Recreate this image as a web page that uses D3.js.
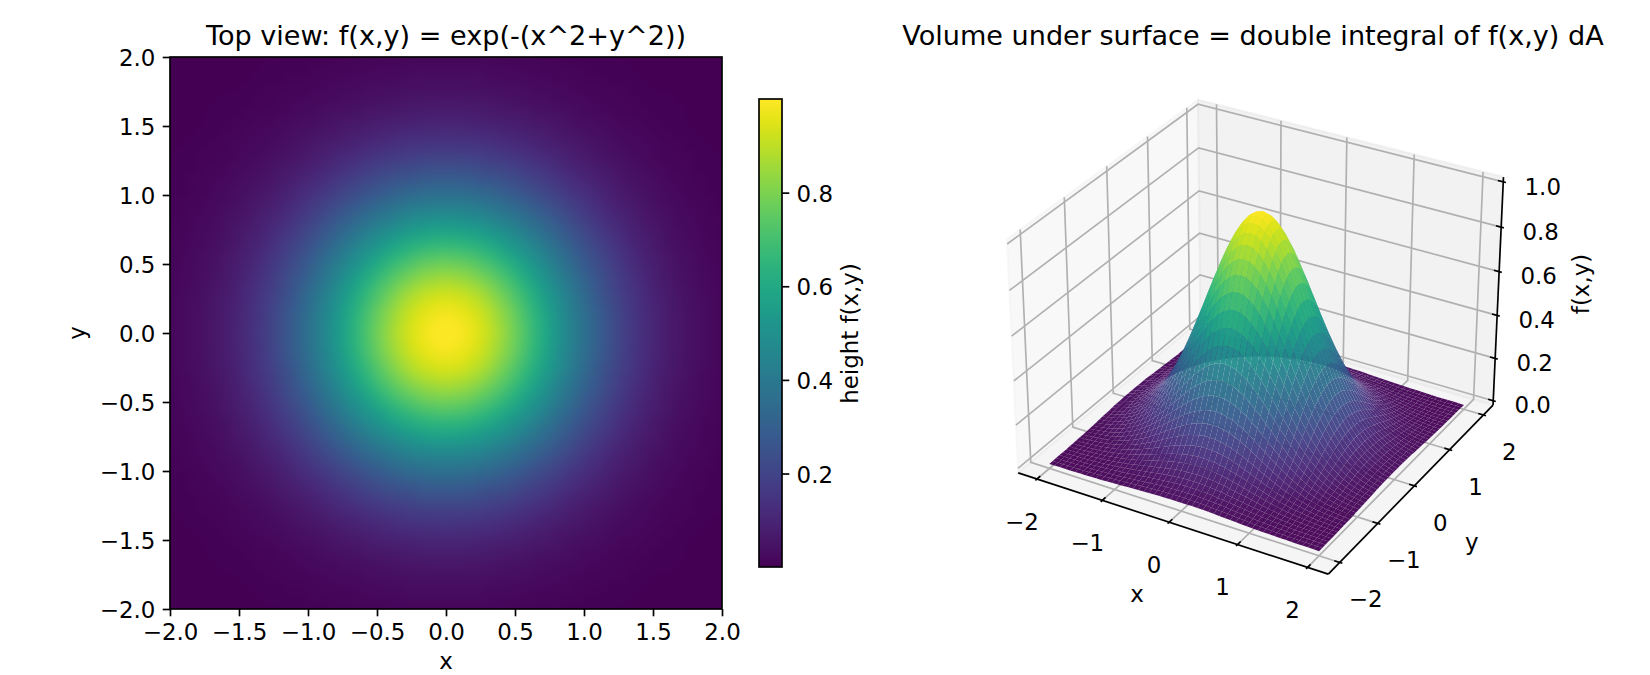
<!DOCTYPE html>
<html>
<head>
<meta charset="utf-8">
<title>Volume under surface</title>
<script src="https://cdn.jsdelivr.net/npm/d3@7"></script>
<style>
  html, body { margin: 0; padding: 0; background: #fff; }
  svg { display: block; font-family: "DejaVu Sans", sans-serif; fill: #000; }
  text { fill: #000; }
</style>
</head>
<body>
<svg id="chart" width="1650" height="675"></svg>
<script>
// Height of the surface over one quadrant, rows along y = 0, 0.08 ... 2.0, columns along x = 0, 0.08 ... 2.0.
const heightQuadrant = [
  [1.000,.994,.975,.944,.903,.852,.794,.731,.664,.595,.527,.461,.398,.339,.285,.237,.194,.157,.126,.099,.077,.059,.045,.034,.025,.018],
  [.994,.987,.968,.938,.897,.847,.789,.726,.660,.592,.524,.458,.395,.337,.283,.235,.193,.156,.125,.099,.077,.059,.045,.034,.025,.018],
  [.975,.968,.950,.920,.880,.831,.774,.712,.647,.580,.514,.449,.388,.330,.278,.231,.189,.153,.123,.097,.075,.058,.044,.033,.024,.018],
  [.944,.938,.920,.891,.852,.804,.750,.690,.627,.562,.498,.435,.376,.320,.269,.224,.183,.149,.119,.094,.073,.056,.043,.032,.024,.017],
  [.903,.897,.880,.852,.815,.769,.717,.660,.599,.538,.476,.416,.359,.306,.257,.214,.175,.142,.114,.090,.070,.054,.041,.031,.023,.017],
  [.852,.847,.831,.804,.769,.726,.677,.623,.566,.507,.449,.393,.339,.289,.243,.202,.166,.134,.107,.085,.066,.051,.038,.029,.021,.016],
  [.794,.789,.774,.750,.717,.677,.631,.580,.527,.473,.419,.366,.316,.269,.227,.188,.154,.125,.100,.079,.061,.047,.036,.027,.020,.015],
  [.731,.726,.712,.690,.660,.623,.580,.534,.485,.435,.385,.337,.291,.248,.208,.173,.142,.115,.092,.073,.056,.043,.033,.025,.018,.013],
  [.664,.660,.647,.627,.599,.566,.527,.485,.441,.395,.350,.306,.264,.225,.189,.157,.129,.104,.084,.066,.051,.039,.030,.022,.017,.012],
  [.595,.592,.580,.562,.538,.507,.473,.435,.395,.355,.314,.274,.237,.202,.170,.141,.116,.094,.075,.059,.046,.035,.027,.020,.015,.011],
  [.527,.524,.514,.498,.476,.449,.419,.385,.350,.314,.278,.243,.210,.179,.150,.125,.102,.083,.066,.052,.041,.031,.024,.018,.013,.010],
  [.461,.458,.449,.435,.416,.393,.366,.337,.306,.274,.243,.213,.183,.156,.131,.109,.090,.073,.058,.046,.036,.027,.021,.016,.012,.008],
  [.398,.395,.388,.376,.359,.339,.316,.291,.264,.237,.210,.183,.158,.135,.113,.094,.077,.063,.050,.039,.031,.024,.018,.013,.010,.007],
  [.339,.337,.330,.320,.306,.289,.269,.248,.225,.202,.179,.156,.135,.115,.097,.080,.066,.053,.043,.034,.026,.020,.015,.011,.008,.006],
  [.285,.283,.278,.269,.257,.243,.227,.208,.189,.170,.150,.131,.113,.097,.081,.068,.055,.045,.036,.028,.022,.017,.013,.010,.007,.005],
  [.237,.235,.231,.224,.214,.202,.188,.173,.157,.141,.125,.109,.094,.080,.068,.056,.046,.037,.030,.024,.018,.014,.011,.008,.006,.004],
  [.194,.193,.189,.183,.175,.166,.154,.142,.129,.116,.102,.090,.077,.066,.055,.046,.038,.031,.024,.019,.015,.012,.009,.007,.005,.004],
  [.157,.156,.153,.149,.142,.134,.125,.115,.104,.094,.083,.073,.063,.053,.045,.037,.031,.025,.020,.016,.012,.009,.007,.005,.004,.003],
  [.126,.125,.123,.119,.114,.107,.100,.092,.084,.075,.066,.058,.050,.043,.036,.030,.024,.020,.016,.012,.010,.007,.006,.004,.003,.002],
  [.099,.099,.097,.094,.090,.085,.079,.073,.066,.059,.052,.046,.039,.034,.028,.024,.019,.016,.012,.010,.008,.006,.004,.003,.002,.002],
  [.077,.077,.075,.073,.070,.066,.061,.056,.051,.046,.041,.036,.031,.026,.022,.018,.015,.012,.010,.008,.006,.005,.003,.003,.002,.001],
  [.059,.059,.058,.056,.054,.051,.047,.043,.039,.035,.031,.027,.024,.020,.017,.014,.012,.009,.007,.006,.005,.004,.003,.002,.001,.001],
  [.045,.045,.044,.043,.041,.038,.036,.033,.030,.027,.024,.021,.018,.015,.013,.011,.009,.007,.006,.004,.003,.003,.002,.002,.001,.001],
  [.034,.034,.033,.032,.031,.029,.027,.025,.022,.020,.018,.016,.013,.011,.010,.008,.007,.005,.004,.003,.003,.002,.002,.001,.001,.001],
  [.025,.025,.024,.024,.023,.021,.020,.018,.017,.015,.013,.012,.010,.008,.007,.006,.005,.004,.003,.002,.002,.001,.001,.001,.001,.000],
  [.018,.018,.018,.017,.017,.016,.015,.013,.012,.011,.010,.008,.007,.006,.005,.004,.004,.003,.002,.002,.001,.001,.001,.001,.000,.000]
];
const planTicks = [-2, -1.5, -1, -0.5, 0, 0.5, 1, 1.5, 2];
const colorbarTicks = [0.2, 0.4, 0.6, 0.8];
const surfaceXTicks = [-2, -1, 0, 1, 2];
const surfaceYTicks = [-2, -1, 0, 1, 2];
const surfaceZTicks = [0, 0.2, 0.4, 0.6, 0.8, 1];
const heightRange = [0.000335, 1];
const planTitle = "Top view: f(x,y) = exp(-(x^2+y^2))";
const surfaceTitle = "Volume under surface = double integral of f(x,y) dA";

const FONT = 22.92, TITLE_FONT = 27.08, LINE = 1.67, TICK = 7.3;
const svg = d3.select("#chart");
const color = d3.scaleSequential(d3.interpolateViridis).domain(heightRange);

// Full field on the 51 x 51 grid, unfolded from the quadrant table.
const half = heightQuadrant.length - 1, fieldSize = 2 * half + 1;
const field = d3.range(fieldSize).map(r =>
  d3.range(fieldSize).map(c => heightQuadrant[Math.abs(r - half)][Math.abs(c - half)]));
const gridCoord = d3.scaleLinear().domain([0, fieldSize - 1]).range([-2, 2]);

/* ---------- top view ---------- */
const planBox = { left: 170, right: 722, top: 57, bottom: 609 };
const px = d3.scaleLinear().domain([-2, 2]).range([planBox.left, planBox.right]);
const py = d3.scaleLinear().domain([-2, 2]).range([planBox.bottom, planBox.top]);

const source = document.createElement("canvas");
source.width = source.height = fieldSize;
const sourceCtx = source.getContext("2d");
field.forEach((row, r) => row.forEach((v, c) => {
  sourceCtx.fillStyle = color(v);
  sourceCtx.fillRect(c, r, 1, 1);
}));
const heat = document.createElement("canvas");
heat.width = heat.height = planBox.right - planBox.left;
const heatCtx = heat.getContext("2d");
heatCtx.imageSmoothingEnabled = true;
heatCtx.imageSmoothingQuality = "high";
heatCtx.drawImage(source, 0.5, 0.5, fieldSize - 1, fieldSize - 1, 0, 0, heat.width, heat.height);

const plan = svg.append("g");
plan.append("image")
  .attr("x", px(-2)).attr("y", py(2))
  .attr("width", px(2) - px(-2)).attr("height", py(-2) - py(2))
  .attr("href", heat.toDataURL());
plan.append("rect")
  .attr("x", px(-2)).attr("y", py(2))
  .attr("width", px(2) - px(-2)).attr("height", py(-2) - py(2))
  .attr("fill", "none").attr("stroke", "#000").attr("stroke-width", LINE);

function styleAxis(g) {
  g.select(".domain").remove();
  g.selectAll(".tick line").attr("stroke", "#000").attr("stroke-width", LINE);
  g.selectAll(".tick text").attr("font-size", FONT).attr("font-family", "DejaVu Sans");
}
const centreTickText = g => g.selectAll(".tick text").attr("dy", "0.37em");

plan.append("g").attr("transform", `translate(0,${planBox.bottom})`)
  .call(d3.axisBottom(px).tickValues(planTicks).tickFormat(d3.format(".1f")).tickSize(TICK).tickPadding(TICK))
  .call(styleAxis);
plan.append("g").attr("transform", `translate(${planBox.left},0)`)
  .call(d3.axisLeft(py).tickValues(planTicks).tickFormat(d3.format(".1f")).tickSize(TICK).tickPadding(TICK))
  .call(styleAxis).call(centreTickText);

plan.append("text").attr("x", 446).attr("y", 45).attr("text-anchor", "middle")
  .attr("font-size", TITLE_FONT).text(planTitle);
plan.append("text").attr("x", 446).attr("y", 669.4).attr("text-anchor", "middle")
  .attr("font-size", FONT).text("x");
plan.append("text").attr("transform", "translate(85.3,333) rotate(-90)").attr("text-anchor", "middle")
  .attr("font-size", FONT).text("y");

/* ---------- colour bar ---------- */
const barBox = { left: 759, right: 782, top: 99, bottom: 567 };
const by = d3.scaleLinear().domain(heightRange).range([barBox.bottom, barBox.top]);
const bar = svg.append("g");
const defs = svg.append("defs");
const gradient = defs.append("linearGradient").attr("id", "viridisRamp")
  .attr("x1", 0).attr("y1", 1).attr("x2", 0).attr("y2", 0);
d3.range(0, 1.0001, 1 / 64).forEach(t => {
  gradient.append("stop").attr("offset", t).attr("stop-color", d3.interpolateViridis(t));
});
bar.append("rect")
  .attr("x", barBox.left).attr("y", barBox.top)
  .attr("width", barBox.right - barBox.left).attr("height", barBox.bottom - barBox.top)
  .attr("fill", "url(#viridisRamp)").attr("stroke", "#000").attr("stroke-width", LINE);
bar.append("g").attr("transform", `translate(${barBox.right},0)`)
  .call(d3.axisRight(by).tickValues(colorbarTicks).tickFormat(d3.format(".1f")).tickSize(TICK).tickPadding(TICK))
  .call(styleAxis).call(centreTickText);
bar.append("text").attr("transform", "translate(858,333.5) rotate(-90)").attr("text-anchor", "middle")
  .attr("font-size", FONT).text("height f(x,y)");

/* ---------- 3D surface: perspective camera, elevation 30, azimuth -60 ---------- */
const viewLimX = [-2.2917, 2.2917], viewLimY = [-2.2917, 2.2917], viewLimZ = [-0.0208, 1.0208];
const boxScale = 1.8294640721620434 * 25 / 24 / Math.sqrt(41);
const box = [4 * boxScale, 4 * boxScale, 3 * boxScale];
const wx = d3.scaleLinear().domain(viewLimX).range([-box[0] / 2, box[0] / 2]);
const wy = d3.scaleLinear().domain(viewLimY).range([-box[1] / 2, box[1] / 2]);
const wz = d3.scaleLinear().domain(viewLimZ).range([-box[2] / 2, box[2] / 2]);

const elev = 30 * Math.PI / 180, azim = -60 * Math.PI / 180, camDist = 10;
const W = [Math.cos(elev) * Math.cos(azim), Math.cos(elev) * Math.sin(azim), Math.sin(elev)];
const U = [-Math.sin(azim), Math.cos(azim), 0];
const V = [W[1] * U[2] - W[2] * U[1], W[2] * U[0] - W[0] * U[2], W[0] * U[1] - W[1] * U[0]];
const dot = (a, b) => a[0] * b[0] + a[1] * b[1] + a[2] * b[2];

const sx = d3.scaleLinear().domain([0, 1]).range([1260, 1260 + 2984]);
const sy = d3.scaleLinear().domain([0, 1]).range([325.5, 325.5 - 2984]);

function project(x, y, z) {
  const d = [wx(x), wy(y), wz(z)];
  const depth = camDist - dot(W, d);
  return { x: sx(dot(U, d) / depth), y: sy(dot(V, d) / depth), depth };
}
const pts = list => list.map(p => { const q = project(...p); return `${q.x},${q.y}`; }).join(" ");

const [x0, x1] = viewLimX, [y0, y1] = viewLimY, [z0, z1] = viewLimZ;
const scene = svg.append("g");

// Back panes and floor
const panes = [
  { corners: [[x0, y0, z0], [x0, y1, z0], [x0, y1, z1], [x0, y0, z1]], shade: 0.95 },
  { corners: [[x0, y1, z0], [x1, y1, z0], [x1, y1, z1], [x0, y1, z1]], shade: 0.90 },
  { corners: [[x0, y0, z0], [x1, y0, z0], [x1, y1, z0], [x0, y1, z0]], shade: 0.925 }
];
scene.append("g").selectAll("polygon").data(panes).join("polygon")
  .attr("points", d => pts(d.corners))
  .attr("fill", d => `rgba(${d.shade * 255},${d.shade * 255},${d.shade * 255},0.5)`)
  .attr("stroke", d => `rgba(${d.shade * 255},${d.shade * 255},${d.shade * 255},0.5)`)
  .attr("stroke-width", 2);

// Grid lines folded across the panes
const gridPaths = [
  ...surfaceXTicks.map(v => [[v, y0, z0], [v, y1, z0], [v, y1, z1]]),
  ...surfaceYTicks.map(v => [[x1, v, z0], [x0, v, z0], [x0, v, z1]]),
  ...surfaceZTicks.map(v => [[x0, y0, v], [x0, y1, v], [x1, y1, v]])
];
scene.append("g").selectAll("polyline").data(gridPaths).join("polyline")
  .attr("points", pts).attr("fill", "none")
  .attr("stroke", "#b0b0b0").attr("stroke-width", LINE);

// Axis edges
const axisEdges = [
  [[x0, y0, z0], [x1, y0, z0]],
  [[x1, y0, z0], [x1, y1, z0]],
  [[x1, y1, z0], [x1, y1, z1]]
];
scene.append("g").selectAll("polyline").data(axisEdges).join("polyline")
  .attr("points", pts).attr("fill", "none")
  .attr("stroke", "#000").attr("stroke-width", LINE);

// Tick marks run a little outward and inward along the neighbouring axis
const spanXY = (x1 - x0) / 12;
const tickMarks = [
  ...surfaceXTicks.map(v => [[v, y0 - 0.1 * spanXY, z0], [v, y0 + 0.2 * spanXY, z0]]),
  ...surfaceYTicks.map(v => [[x1 + 0.1 * spanXY, v, z0], [x1 - 0.2 * spanXY, v, z0]]),
  ...surfaceZTicks.map(v => [[x1 + 0.1 * spanXY, y1, v], [x1 - 0.2 * spanXY, y1, v]])
];
scene.append("g").selectAll("polyline").data(tickMarks).join("polyline")
  .attr("points", pts).attr("fill", "none")
  .attr("stroke", "#000").attr("stroke-width", LINE);

// Tick labels, set off from the tick's foot by a per-axis screen offset
const numeric = d3.format("d"), decimal = d3.format(".1f");
const tickLabels = [
  ...surfaceXTicks.map(v => ({ at: project(v, y0, z0), dx: -15, dy: 42.5, text: numeric(v) })),
  ...surfaceYTicks.map(v => ({ at: project(x1, v, z0), dx: 26, dy: 36.7, text: numeric(v) })),
  ...surfaceZTicks.map(v => ({ at: project(x1, y1, v), dx: 39.5, dy: 4.5, text: decimal(v) }))
];
scene.append("g").selectAll("text").data(tickLabels).join("text")
  .attr("x", d => d.at.x + d.dx).attr("y", d => d.at.y + d.dy)
  .attr("dy", "0.36em").attr("text-anchor", "middle").attr("font-size", FONT)
  .text(d => d.text);

scene.append("text").attr("x", 1137).attr("y", 602).attr("text-anchor", "middle").attr("font-size", FONT).text("x");
scene.append("text").attr("x", 1471.7).attr("y", 549.5).attr("text-anchor", "middle").attr("font-size", FONT).text("y");
scene.append("text").attr("transform", "translate(1589,284) rotate(-90)").attr("text-anchor", "middle")
  .attr("font-size", FONT).text("f(x,y)");
scene.append("text").attr("x", 1253).attr("y", 45).attr("text-anchor", "middle")
  .attr("font-size", TITLE_FONT).text(surfaceTitle);

// Surface facets, painted far to near
const facets = [];
for (let r = 0; r < fieldSize - 1; r++) {
  for (let c = 0; c < fieldSize - 1; c++) {
    const corners = [[c, r], [c + 1, r], [c + 1, r + 1], [c, r + 1]]
      .map(([i, j]) => [gridCoord(i), gridCoord(j), field[j][i]]);
    facets.push({
      corners,
      mean: d3.mean(corners, p => p[2]),
      depth: d3.mean(corners, p => project(...p).depth)
    });
  }
}
facets.sort((a, b) => d3.descending(a.depth, b.depth));
scene.append("g").selectAll("polygon").data(facets).join("polygon")
  .attr("points", d => pts(d.corners))
  .attr("fill", d => color(d.mean))
  .attr("fill-opacity", 0.95);
</script>
</body>
</html>
